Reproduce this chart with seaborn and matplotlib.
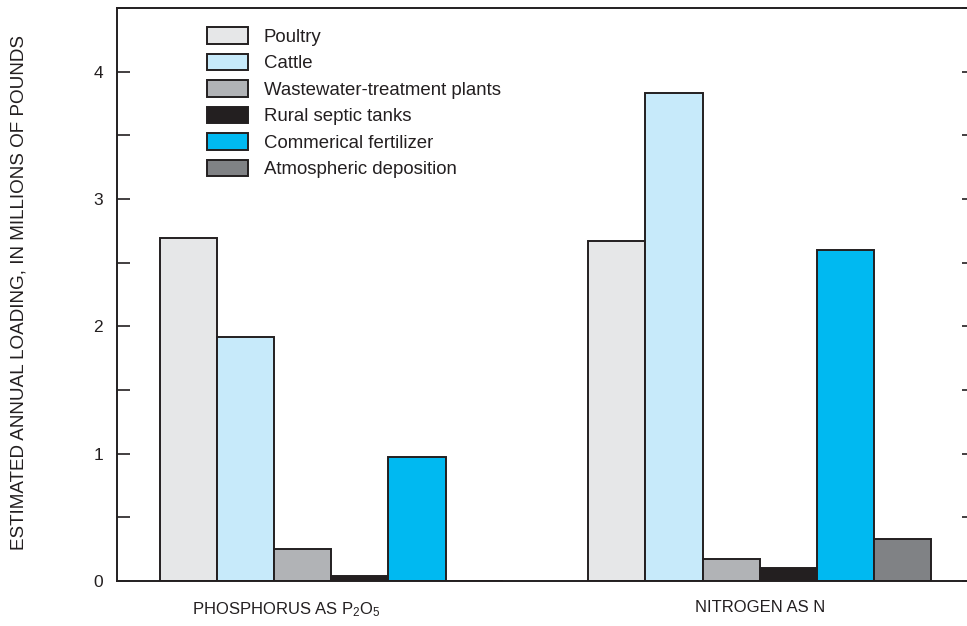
import matplotlib
matplotlib.use("Agg")
import matplotlib.pyplot as plt
import matplotlib.transforms as mtransforms
from matplotlib.ticker import MultipleLocator
import seaborn as sns
import pandas as pd

categories = ["PHOSPHORUS", "NITROGEN"]
category_labels = ["PHOSPHORUS AS P$_\\mathregular{2}$O$_\\mathregular{5}$", "NITROGEN AS N"]
sources = ["Poultry", "Cattle", "Wastewater-treatment plants", "Rural septic tanks",
           "Commerical fertilizer", "Atmospheric deposition"]
phosphorus = [2.69, 1.92, 0.25, 0.04, 0.97, 0.0]
nitrogen = [2.67, 3.83, 0.17, 0.10, 2.60, 0.33]
colors = ["#e6e7e8", "#c7eafa", "#b1b3b6", "#231f20", "#00b9f1", "#808285"]

rows = []
for s, v in zip(sources, phosphorus):
    rows.append({"category": categories[0], "source": s, "value": v})
for s, v in zip(sources, nitrogen):
    rows.append({"category": categories[1], "source": s, "value": v})
df = pd.DataFrame(rows)

sns.set_theme(style="white")
plt.rcParams["font.family"] = ["Liberation Sans", "DejaVu Sans"]
plt.rcParams["mathtext.default"] = "regular"

fig = plt.figure(figsize=(9.67, 6.26), dpi=100)
W, H = 967, 626
ax = fig.add_axes([117 / W, 1 - 581 / H, (974 - 117) / W, (581 - 8) / H])

sns.barplot(data=df, x="category", y="value", hue="source", order=categories,
            hue_order=sources, palette=colors, width=0.8, edgecolor="#231f20",
            linewidth=1.4, saturation=1, errorbar=None, ax=ax)

ax.set_xlim(-0.5, 1.5)
ax.set_ylim(0, 4.5)
ax.yaxis.set_major_locator(MultipleLocator(1))
ax.yaxis.set_minor_locator(MultipleLocator(0.5))
ax.tick_params(axis="y", which="both", direction="in", length=9, width=1.2,
               color="#231f20", left=True, right=True, labelsize=12.5, pad=10,
               labelcolor="#231f20")
ax.tick_params(axis="x", length=0, labelsize=12, pad=14, labelcolor="#231f20")
ax.set_xticks([0, 1])
ax.set_xticklabels(category_labels)
# shift phosphorus label left as in reference
lbl = ax.get_xticklabels()[0]
lbl.set_transform(lbl.get_transform() + mtransforms.ScaledTranslation(-45 / 100, 0, fig.dpi_scale_trans))

for side in ["left", "right", "top", "bottom"]:
    ax.spines[side].set_color("#231f20")
    ax.spines[side].set_linewidth(1.4)
    ax.spines[side].set_visible(True)

ax.set_xlabel("")
ax.set_ylabel("")
fig.text(19 / W, 1 - 293 / H, "ESTIMATED ANNUAL LOADING, IN MILLIONS OF POUNDS",
         rotation=90, ha="center", va="center", fontsize=13.6, color="#231f20")

handles, labels = ax.get_legend_handles_labels()
leg = ax.legend(handles, labels, loc="upper left",
                bbox_to_anchor=((207 - 117) / 857, 1 - (27 - 8) / 573),
                frameon=False, fontsize=13.4, borderpad=0, borderaxespad=0,
                handlelength=2.2, handleheight=1.0, handletextpad=0.86,
                labelspacing=0.42)
for t in leg.get_texts():
    t.set_color("#231f20")

fig.savefig("out.png", dpi=100)
